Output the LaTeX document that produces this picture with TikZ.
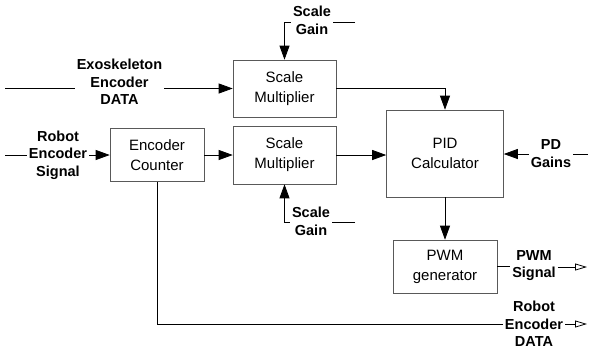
\documentclass[tikz,border=0pt]{standalone}
\usepackage{fontspec}
\setmainfont{Liberation Sans}
\usetikzlibrary{positioning,arrows.meta,calc}
\tikzset{
  blk/.style={draw=black!65,line width=0.6pt,align=center,
              font=\fontsize{15}{20}\selectfont,inner sep=2pt},
  lbl/.style={align=center,font=\bfseries\fontsize{14.5}{17.5}\selectfont,
              inner sep=2pt},
  ln/.style={line width=0.8pt},
  arr/.style={-{Triangle[length=14pt,width=10pt]},line width=0.8pt},
  oarr/.style={-{Triangle[open,length=12pt,width=7pt]},line width=0.8pt},
}

\begin{document}
\begin{tikzpicture}[x=1pt,y=-1pt]
  \useasboundingbox (0,0) rectangle (592,349);
  % blocks
  \node[blk,minimum width=103pt,minimum height=57pt] (smtop) at (284.5,88.5) {Scale\\Multiplier};
  \node[blk,minimum width=103pt,minimum height=58pt] (smbot) at (284.5,155) {Scale\\Multiplier};
  \node[blk,minimum width=94pt,minimum height=53pt] (enc) at (157,155) {Encoder\\Counter};
  \node[blk,minimum width=117pt,minimum height=87pt] (pid) at (445,153.5) {PID\\Calculator};
  \node[blk,minimum width=104pt,minimum height=53pt] (pwm) at (445,266.5) {PWM\\generator};
  % signal labels
  \node[lbl] (exo) at (119.5,82) {Exoskeleton\\Encoder\\DATA};
  \node[lbl] (rsig) at (58,155) {Robot\\Encoder\\Signal};
  \node[lbl] (sgt) at (312,20.5) {Scale\\Gain};
  \node[lbl] (sgb) at (311,221.5) {Scale\\Gain};
  \node[lbl] (pdg) at (551,153.5) {PD\\Gains};
  \node[lbl] (pws) at (534,265.5) {PWM\\Signal};
  \node[lbl] (red) at (534,324) {Robot\\Encoder\\DATA};
  \coordinate (exoin) at (5,88.5);
  \coordinate (rin) at (5,155);
  \coordinate (sgtend) at (355,22);
  \coordinate (sgbend) at (355,222);
  \coordinate (pdgend) at (588,154);
  \coordinate (pwsend) at (587,267);
  \coordinate (redend) at (587,324);
  % connectors
  \draw[ln] (exoin) -- (exo.west |- exoin);
  \draw[arr] (exo.east |- smtop) -- (smtop);
  \draw[ln] (rin) -- (rsig);
  \draw[arr] (rsig) -- (enc);
  \draw[arr] (enc) -- (smbot);
  \draw[ln] (sgtend) -- (sgt.east |- sgtend);
  \draw[arr] (sgt.west |- sgtend) -| (smtop);
  \draw[ln] (sgbend) -- (sgb.east |- sgbend);
  \draw[arr] (sgb.west |- sgbend) -| (smbot);
  \draw[arr] (smtop) -| (pid);
  \draw[arr] (smbot) -- (pid.west |- smbot);
  \draw[ln] (pdgend) -- (pdg.east |- pdgend);
  \draw[arr] (pdg.west |- pdgend) -- (pid.east |- pdgend);
  \draw[arr] (pid) -- (pwm);
  \draw[ln] (pwm) -- (pws.west |- pwm);
  \draw[oarr] (pws.east |- pwsend) -- (pwsend);
  \draw[ln] (enc) |- (red);
  \draw[oarr] (red) -- (redend);
\end{tikzpicture}
\end{document}
